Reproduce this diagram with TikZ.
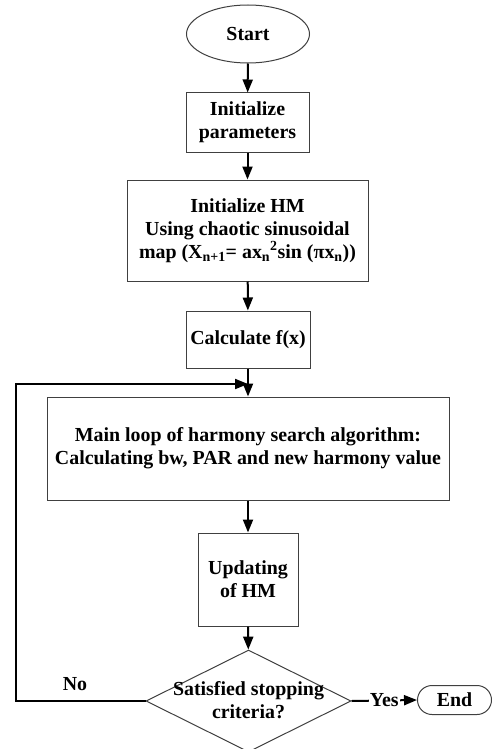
\documentclass[tikz,border=0pt]{standalone}
\usepackage{fontspec}
\setmainfont{Liberation Serif}
\usetikzlibrary{shapes.geometric,shapes.misc,arrows.meta}
\begin{document}
\begin{tikzpicture}[x=1pt,y=-1pt,
  font=\fontsize{19.9}{22.8}\selectfont\bfseries,
  box/.style={draw=black!75,line width=1pt,rectangle,inner sep=0pt,align=center},
  arr/.style={draw=black,line width=2pt,-{Triangle[length=13pt,width=10pt]}},
  lbl/.style={inner sep=0pt}]
\useasboundingbox (0,0) rectangle (492,749);
\node[box,ellipse,minimum width=123,minimum height=58] (start) at (248,34) {Start};
\node[box,minimum width=123,minimum height=59] (init) at (247.5,122.5) {Initialize\\parameters};
\node[box,minimum width=241,minimum height=101] (hm) at (247.5,230.5)
  {Initialize HM\\Using chaotic sinusoidal\\map (X\textsubscript{n+1}= ax\textsubscript{n}\textsuperscript{2}sin (πx\textsubscript{n}))};
\node[box,minimum width=124,minimum height=57] (calc) at (248,339.5) {Calculate f(x)};
\node[box,minimum width=402,minimum height=103] (main) at (248,448.5)
  {Main loop of harmony search algorithm:\\Calculating bw, PAR and new harmony value};
\node[box,minimum width=100,minimum height=93] (upd) at (248,579.5) {Updating\\of HM};
\node[box,diamond,minimum width=205,minimum height=102] (dec) at (248.5,701) {};
\node[lbl,align=center] (dectext) at (248.5,700) {Satisfied stopping\\criteria?};
\node[box,rounded rectangle,minimum width=74,minimum height=29] (end) at (454.5,700) {End};
\node[lbl] (no) at (75,684) {No};
\coordinate (join) at (248,384);
\coordinate (corner) at (16,701);
\draw[arr] (start) -- (init);
\draw[arr] (init) -- (hm);
\draw[arr] (hm) -- (calc);
\draw[arr] (calc) -- (main);
\draw[arr] (main) -- (upd);
\draw[arr] (upd) -- (dec);
\draw[arr] (dec.west) -- (corner) |- (join);
\draw[arr] (dec.east) -- (end.west) node[midway,fill=white,inner sep=1pt] {Yes};
\end{tikzpicture}
\end{document}
